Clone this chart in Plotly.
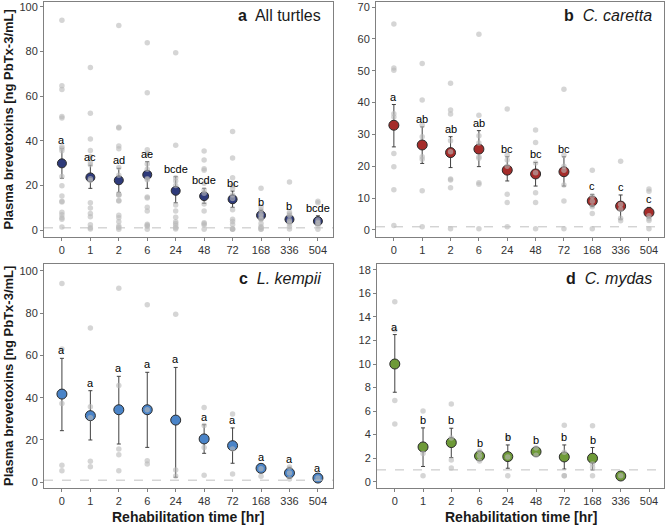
import plotly.graph_objects as go

times = ["0", "1", "2", "6", "24", "48", "72", "168", "336", "504"]

# raw measurements per species (one list per rehabilitation time)
caretta_raw = [
    [64.7, 50.9, 50.2, 36.5, 35.5, 24.0, 19.9, 12.6, 1.4],
    [52.3, 40.8, 33.0, 29.3, 23.0, 22.2, 12.3, 1.0],
    [46.1, 37.7, 36.4, 28.0, 24.6, 16.0, 15.7, 13.3, 0.4],
    [61.5, 36.0, 29.6, 27.3, 23.0, 22.5, 14.8, 14.4, 0.4],
    [38.0, 23.5, 22.0, 20.0, 11.2, 8.6, 1.0],
    [31.4, 27.5, 21.0, 18.0, 11.7, 8.6, 0.4],
    [44.2, 23.5, 20.0, 18.8, 14.1, 9.1, 0.4],
    [18.8, 10.5, 9.0, 7.3, 5.2, 0.4],
    [21.6, 8.0, 6.5, 3.7, 2.9],
    [12.9, 12.2, 4.5, 3.5, 3.0, 0.4],
]
kempii_raw = [
    [94.0, 63.0, 37.3, 8.0, 5.5],
    [72.9, 35.7, 30.5, 9.9, 7.4],
    [91.7, 45.7, 15.7, 13.0, 5.5],
    [83.9, 34.3, 10.2, 8.6],
    [79.5, 5.8, 3.0],
    [35.4, 26.8, 16.5, 3.3],
    [32.3, 15.7, 3.9],
    [6.4, 2.9],
    [7.2, 4.4, 1.6],
    [2.0],
]
mydas_raw = [
    [15.3, 12.9, 6.9, 4.9],
    [6.0, 2.4, 0.5],
    [6.6, 3.7, 1.85, 1.15],
    [2.6, 2.2, 1.75],
    [3.75, 2.1, 0.5],
    [2.85, 2.25],
    [4.8, 2.5, 0.5, 0.5],
    [4.75, 1.5, 1.2, 0.5],
    [0.5],
    [],
]

# group means with error-bar limits and significance letters
all_mean = [29.9, 23.6, 22.3, 24.8, 17.6, 15.2, 13.8, 6.6, 4.8, 4.0]
all_hi = [36.6, 29.1, 27.7, 30.6, 23.9, 18.7, 17.5, 9.0, 7.3, 6.4]
all_lo = [23.2, 18.7, 16.9, 18.7, 12.2, 12.0, 10.2, 4.5, 3.3, 2.7]
all_letters = ["a", "ac", "ad", "ae", "bcde", "bcde", "bc", "b", "b", "bcde"]

caretta_mean = [32.9, 26.7, 24.3, 25.4, 18.8, 17.6, 18.3, 9.1, 7.5, 5.5]
caretta_hi = [39.4, 32.4, 29.3, 31.2, 23.0, 21.2, 23.0, 11.2, 11.0, 7.1]
caretta_lo = [26.1, 20.9, 19.6, 19.9, 15.4, 13.8, 13.8, 7.3, 3.4, 3.7]
caretta_letters = ["a", "ab", "ab", "ab", "bc", "bc", "bc", "c", "c", "c"]

kempii_mean = [41.7, 31.5, 34.3, 34.3, 29.4, 20.5, 17.3, 6.6, 4.4, 2.0]
kempii_hi = [58.6, 43.3, 50.1, 52.0, 54.3, 27.2, 25.7, 8.0, 7.1, 3.2]
kempii_lo = [24.4, 20.0, 18.1, 16.5, 2.4, 13.7, 9.0, 5.2, 1.8, 2.0]
kempii_letters = ["a"] * 10

mydas_mean = [10.0, 2.95, 3.32, 2.18, 2.13, 2.55, 2.1, 1.99, 0.48, None]
mydas_hi = [12.5, 4.57, 4.54, 2.6, 3.12, 2.9, 3.12, 2.9, 0.48, None]
mydas_lo = [7.6, 1.29, 2.04, 1.8, 1.14, 2.2, 1.07, 1.0, 0.48, None]
mydas_letters = ["a", "b", "b", "b", "b", "b", "b", "b", "", ""]

detection_limit = 1.0

all_raw = [c + k + m for c, k, m in zip(caretta_raw, kempii_raw, mydas_raw)]

W, H = 667, 527
FONT = "Liberation Sans, Arial, sans-serif"

panels = [
    dict(key="", raw=all_raw, mean=all_mean, hi=all_hi, lo=all_lo, letters=all_letters,
         color="#2e3a7a", msize=9, box=(44, 333, 2, 237), yr=[-3.1, 102.2], dt=20,
         title="<b>a</b>\u00a0 All turtles"),
    dict(key="2", raw=caretta_raw, mean=caretta_mean, hi=caretta_hi, lo=caretta_lo,
         letters=caretta_letters, color="#a52c2a", msize=10, box=(376, 664, 2, 237),
         yr=[-2.2, 71.6], dt=10, title="<b>b</b>\u00a0 <i>C. caretta</i>"),
    dict(key="3", raw=kempii_raw, mean=kempii_mean, hi=kempii_hi, lo=kempii_lo,
         letters=kempii_letters, color="#4a84c8", msize=10, box=(44, 333, 264, 488),
         yr=[-2.7, 103.2], dt=20, title="<b>c</b>\u00a0 <i>L. kempii</i>"),
    dict(key="4", raw=mydas_raw, mean=mydas_mean, hi=mydas_hi, lo=mydas_lo,
         letters=mydas_letters, color="#6e9a38", msize=10, box=(377, 664, 264, 488),
         yr=[-0.54, 18.5], dt=2, title="<b>d</b>\u00a0 <i>C. mydas</i>"),
]

fig = go.Figure()
layout = {}
annotations = []
shapes = []

for p in panels:
    k = p["key"]
    xa, ya = "x" + k, "y" + k
    x0, x1, y0, y1 = p["box"]
    layout["xaxis" + k] = dict(
        domain=[x0 / W, x1 / W], anchor=ya, type="category",
        categoryorder="array", categoryarray=times, range=[-0.63, 9.53],
        showline=True, mirror=True, linecolor="#808080", linewidth=1,
        ticks="outside", ticklen=3, tickcolor="#808080", showgrid=False, zeroline=False,
        tickfont=dict(family=FONT, size=11, color="#333333"),
    )
    layout["yaxis" + k] = dict(
        domain=[1 - y1 / H, 1 - y0 / H], anchor=xa, range=p["yr"], dtick=p["dt"],
        tick0=0, showline=True, mirror=True, linecolor="#808080", linewidth=1,
        ticks="outside", ticklen=3, tickcolor="#808080", showgrid=False, zeroline=False,
        tickfont=dict(family=FONT, size=11, color="#333333"),
    )
    xs = [t for t, vals in zip(times, p["raw"]) for _ in vals]
    ys = [v for vals in p["raw"] for v in vals]
    mx = [t for t, m in zip(times, p["mean"]) if m is not None]
    my = [m for m in p["mean"] if m is not None]
    up = [h - m for h, m in zip(p["hi"], p["mean"]) if m is not None]
    dn = [m - l for l, m in zip(p["lo"], p["mean"]) if m is not None]
    fig.add_trace(go.Scatter(
        x=mx, y=my, mode="markers", xaxis=xa, yaxis=ya, showlegend=False,
        marker=dict(size=p["msize"], color=p["color"], line=dict(color="#2a2a2a", width=1)),
        error_y=dict(type="data", array=up, arrayminus=dn, color="#404040",
                     thickness=1, width=2),
    ))
    fig.add_trace(go.Scatter(
        x=xs, y=ys, mode="markers", xaxis=xa, yaxis=ya, showlegend=False,
        marker=dict(size=5.5, color="rgba(185,185,185,0.6)", line=dict(width=0)),
    ))
    shapes.append(dict(type="line", xref=xa + " domain", yref=ya, x0=0, x1=1,
                       y0=detection_limit, y1=detection_limit,
                       line=dict(color="#c0c0c0", width=1, dash="dash")))
    for i, (h, m, lab) in enumerate(zip(p["hi"], p["mean"], p["letters"])):
        if m is None or not lab:
            continue
        annotations.append(dict(x=i, y=h, xref=xa, yref=ya, text=lab, showarrow=False,
                                yanchor="bottom", yshift=0,
                                font=dict(family=FONT, size=11, color="#000000")))
    annotations.append(dict(x=1, y=1, xref=xa + " domain", yref=ya + " domain",
                            text=p["title"], showarrow=False, xanchor="right",
                            yanchor="middle", xshift=-10, yshift=-14,
                            font=dict(family=FONT, size=16, color="#1a1a1a")))

ytitle = "<b>Plasma brevetoxins [ng PbTx-3/mL]</b>"
for yc in [(2 + 237) / 2, (264 + 488) / 2]:
    annotations.append(dict(x=8 / W, y=1 - yc / H, xref="paper", yref="paper",
                            text=ytitle, textangle=-90, showarrow=False,
                            xanchor="center", yanchor="middle",
                            font=dict(family=FONT, size=13, color="#1a1a1a")))
for xc in [(44 + 333) / 2, (377 + 664) / 2]:
    annotations.append(dict(x=xc / W, y=1 - 517 / H, xref="paper", yref="paper",
                            text="<b>Rehabilitation time [hr]</b>", showarrow=False,
                            xanchor="center", yanchor="middle",
                            font=dict(family=FONT, size=14, color="#1a1a1a")))

fig.update_layout(
    width=W, height=H, margin=dict(l=0, r=0, t=0, b=0),
    paper_bgcolor="white", plot_bgcolor="white", hovermode=False,
    annotations=annotations, shapes=shapes, **layout,
)
fig.write_html(
    "out.html",
    config={"displayModeBar": False, "staticPlot": True},
    post_script="document.body.style.margin='0';document.body.style.overflow='hidden';",
)
